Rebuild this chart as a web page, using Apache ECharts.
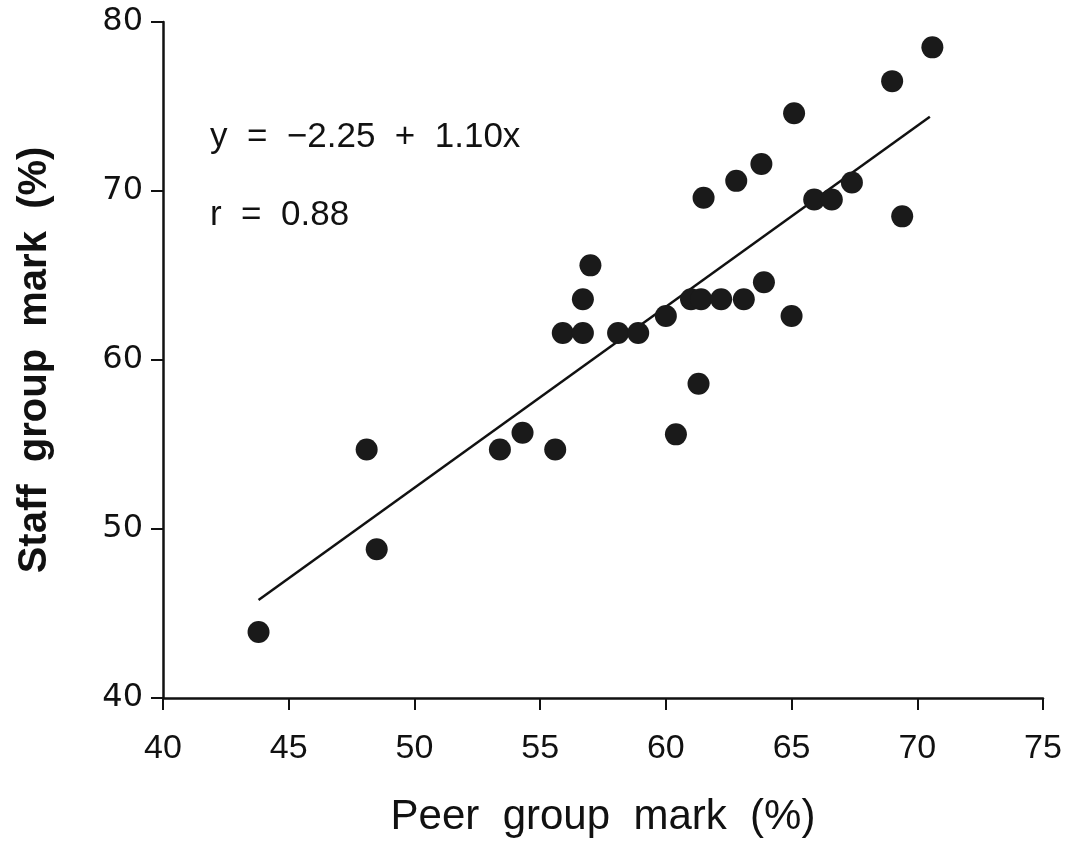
<!DOCTYPE html>
<html>
<head>
<meta charset="utf-8">
<script src="https://cdn.jsdelivr.net/npm/echarts@6/dist/echarts.min.js"></script>
<style>
  html, body { margin: 0; padding: 0; background: #fff; }
  #main { width: 1067px; height: 849px; }
</style>
</head>
<body>
<div id="main"></div>
<script>
// peer vs staff marks
var peerMark = [43.8, 48.1, 48.5, 53.4, 54.3, 55.6, 55.9, 56.7, 56.7, 57.0,
                58.1, 58.9, 60.0, 60.4, 61.0, 61.3, 61.4, 61.5, 62.2, 62.8,
                63.1, 63.8, 63.9, 65.0, 65.1, 65.9, 66.6, 67.4, 69.0, 69.4, 70.6];
var staffMark = [43.9, 54.7, 48.8, 54.7, 55.7, 54.7, 61.6, 61.6, 63.6, 65.6,
                 61.6, 61.6, 62.6, 55.6, 63.6, 58.6, 63.6, 69.6, 63.6, 70.6,
                 63.6, 71.6, 64.6, 62.6, 74.6, 69.5, 69.5, 70.5, 76.5, 68.5, 78.5];

// fitted line ends (y = -2.25 + 1.10x)
var fitX = [43.8, 70.5];
var fitY = [45.8, 74.4];

var xTicks = [40, 45, 50, 55, 60, 65, 70, 75];
var yTicks = [40, 50, 60, 70, 80];

var myChart = echarts.init(document.getElementById('main'));

var points = [];
for (var i = 0; i < peerMark.length; i++) {
    points.push([peerMark[i], staffMark[i]]);
}
var fitLine = [];
for (var j = 0; j < fitX.length; j++) {
    fitLine.push([fitX[j], fitY[j]]);
}

var option = {
    backgroundColor: '#fff',
    animation: false,
    grid: {
        left: 163,
        right: 24,
        top: 22,
        bottom: 151
    },
    xAxis: {
        type: 'value',
        min: xTicks[0],
        max: xTicks[xTicks.length - 1],
        interval: 5,
        name: 'Peer  group  mark  (%)',
        nameLocation: 'middle',
        nameGap: 98,
        nameTextStyle: {
            fontFamily: 'Liberation Sans',
            fontSize: 42,
            color: '#111',
            fontWeight: 'normal'
        },
        axisLine: { lineStyle: { color: '#111', width: 2.5 } },
        axisTick: { show: true, inside: false, length: 12, lineStyle: { color: '#111', width: 2 } },
        axisLabel: {
            margin: 34,
            fontFamily: 'Liberation Sans',
            fontSize: 34,
            color: '#111'
        },
        splitLine: { show: false }
    },
    yAxis: {
        type: 'value',
        min: yTicks[0],
        max: yTicks[yTicks.length - 1],
        interval: 10,
        name: 'Staff  group  mark  (%)',
        nameLocation: 'middle',
        nameGap: 108,
        nameTextStyle: {
            fontFamily: 'Liberation Sans',
            fontSize: 40,
            fontWeight: 'bold',
            color: '#111'
        },
        axisLine: { lineStyle: { color: '#111', width: 2.5 } },
        axisTick: { show: true, inside: false, length: 12, lineStyle: { color: '#111', width: 2 } },
        axisLabel: {
            margin: 20,
            fontFamily: 'DejaVu Sans',
            fontSize: 32,
            color: '#111'
        },
        splitLine: { show: false }
    },
    graphic: [
        {
            type: 'text',
            left: 210,
            top: 120,
            style: {
                text: 'y  =  \u22122.25  +  1.10x',
                font: '35px "Liberation Sans"',
                fill: '#111'
            }
        },
        {
            type: 'text',
            left: 210,
            top: 198,
            style: {
                text: 'r  =  0.88',
                font: '35px "Liberation Sans"',
                fill: '#111'
            }
        }
    ],
    series: [
        {
            type: 'line',
            data: fitLine,
            symbol: 'none',
            lineStyle: { color: '#111', width: 2.5 },
            z: 1
        },
        {
            type: 'scatter',
            data: points,
            symbol: 'circle',
            symbolSize: 22,
            itemStyle: { color: '#1a1a1a', opacity: 1 },
            z: 2
        }
    ]
};

myChart.setOption(option);
</script>
</body>
</html>
